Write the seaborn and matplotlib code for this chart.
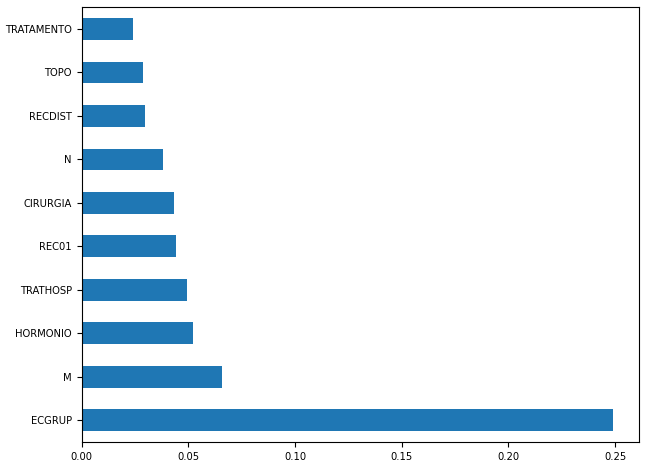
import pandas as pd
import seaborn as sns
from matplotlib import pyplot as plt

# feature importances, top of the chart first
features = ['TRATAMENTO', 'TOPO', 'RECDIST', 'N', 'CIRURGIA',
            'REC01', 'TRATHOSP', 'HORMONIO', 'M', 'ECGRUP']
importances = [0.0239, 0.0287, 0.0297, 0.0381, 0.0432,
               0.0442, 0.0493, 0.0522, 0.0657, 0.2488]

df = pd.DataFrame({'feature': features, 'importance': importances})

fig = plt.figure(figsize=(6.46, 4.66), dpi=100)
ax = fig.add_axes([0.1265, 0.0515, 0.863, 0.933])
sns.barplot(data=df, x='importance', y='feature', orient='h',
            color='#1f77b4', saturation=1, width=0.5, ax=ax)
ax.set_xlabel('')
ax.set_ylabel('')
ax.set_xlim(0, 0.2613)
ax.tick_params(labelsize=7.2)
fig.savefig('out.png', dpi=100)
